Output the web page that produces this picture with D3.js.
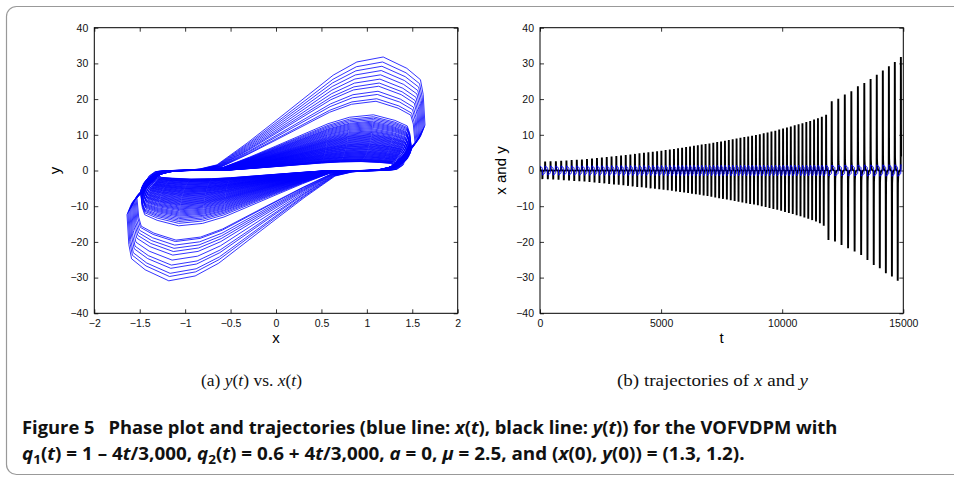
<!DOCTYPE html>
<html>
<head>
<meta charset="utf-8">
<script src="https://cdn.jsdelivr.net/npm/d3@7"></script>
<style>
  body { margin: 0; background: #fff; }
  svg { display: block; }
</style>
</head>
<body>
<svg id="fig" width="954" height="477"></svg>
<script>
// times of the downward spike of each cycle (t)
var cycleT = [100, 324, 546, 766, 984, 1200, 1414, 1626, 1836, 2044, 2250, 2454, 2656, 2856, 3054, 3250,
  3444, 3636, 3826, 4014, 4200, 4384, 4566, 4746, 4924, 5100, 5274, 5446, 5616, 5784, 5950, 6114, 6276,
  6436, 6596, 6756, 6916, 7076, 7236, 7396, 7556, 7716, 7876, 8036, 8196, 8356, 8516, 8676, 8836, 8996,
  9156, 9316, 9476, 9636, 9796, 9956, 10116, 10276, 10436, 10596, 10756, 10916, 11076, 11236, 11396,
  11556, 11716,
  11910, 12180, 12450, 12720, 12990, 13260, 13520, 13780, 14030, 14280, 14530, 14770];
var cycleEnd = 15030;

// spike maxima / minima of y(t) per cycle
var yPeak = [2.5, 2.55, 2.6, 2.7, 2.8, 2.9, 3.0, 3.1, 3.2, 3.35, 3.5, 3.65, 3.8, 3.9, 4.05, 4.2, 4.35, 4.5,
  4.65, 4.8, 4.95, 5.1, 5.25, 5.4, 5.55, 5.75, 5.9, 6.05, 6.25, 6.4, 6.55, 6.75, 6.9, 7.05, 7.25, 7.4, 7.55,
  7.75, 7.95, 8.15, 8.35, 8.55, 8.75, 8.95, 9.15, 9.35, 9.55, 9.75, 9.95, 10.15, 10.4, 10.65, 10.9, 11.15,
  11.45, 11.75, 12.05, 12.35, 12.65, 12.95, 13.25, 13.55, 13.85, 14.25, 14.65, 15.05, 15.6,
  19.4, 20.1, 21.3, 22.2, 23.6, 24.5, 25.6, 26.8, 28.0, 29.2, 30.4, 31.8];
var yTrough = [-2.4, -2.45, -2.5, -2.6, -2.7, -2.8, -2.9, -3.0, -3.1, -3.2, -3.35, -3.5, -3.6, -3.75, -3.9,
  -4.0, -4.15, -4.3, -4.45, -4.6, -4.7, -4.85, -5.0, -5.1, -5.25, -5.4, -5.55, -5.7, -5.85, -6.0, -6.15,
  -6.3, -6.5, -6.65, -6.8, -7.0, -7.15, -7.35, -7.55, -7.75, -7.95, -8.15, -8.35, -8.55, -8.75, -8.95,
  -9.15, -9.35, -9.55, -9.75, -10.0, -10.25, -10.5, -10.75, -11.0, -11.3, -11.6, -11.9, -12.2, -12.5,
  -12.8, -13.15, -13.5, -13.9, -14.3, -14.8, -15.5,
  -19.5, -19.9, -20.9, -21.8, -22.7, -23.7, -25.1, -26.5, -27.4, -28.8, -29.7, -30.9];
// largest |x| reached in each cycle
var xAmp = [1.30, 1.30, 1.31, 1.31, 1.32, 1.32, 1.33, 1.33, 1.34, 1.34, 1.35, 1.35, 1.36, 1.36, 1.37, 1.37,
  1.37, 1.38, 1.38, 1.38, 1.39, 1.39, 1.39, 1.40, 1.40, 1.40, 1.41, 1.41, 1.41, 1.42, 1.42, 1.42, 1.42,
  1.43, 1.43, 1.43, 1.43, 1.44, 1.44, 1.44, 1.44, 1.45, 1.45, 1.45, 1.45, 1.45, 1.46, 1.46, 1.46, 1.46,
  1.46, 1.47, 1.47, 1.47, 1.47, 1.47, 1.48, 1.48, 1.48, 1.48, 1.48, 1.48, 1.49, 1.49, 1.49, 1.49, 1.49,
  1.53, 1.54, 1.55, 1.56, 1.57, 1.58, 1.59, 1.60, 1.61, 1.62, 1.63, 1.64];

var loopU = [0, 0.10, 0.30, 0.60, 0.80, 0.85, 0.87, 0.89, 0.90, 0.915, 0.92, 0.93, 0.94, 0.95, 0.955, 0.965, 0.975, 0.985, 1.0];
var loopX = [-1.44, -1.40, -1.33, -1.15, -0.95, -0.84, -0.65, -0.32, 0, 0.63, 0.89, 1.18, 1.44, 1.59, 1.62, 1.64, 1.59, 1.49, 1.44];
var loopY = [-0.12, -0.05, -0.01, 0.0, 0.005, 0.013, 0.05, 0.24, 0.44, 0.84, 0.956, 1.0, 0.90, 0.80, 0.67, 0.40, 0.30, 0.21, 0.12];
var loopPeak = 0.93, loopXMax = 1.64;

var x0 = 1.3, y0 = 1.2;

var xTicksA = [-2, -1.5, -1, -0.5, 0, 0.5, 1, 1.5, 2];
var tTicks = [0, 5000, 10000, 15000];
var yTicks = [-40, -30, -20, -10, 0, 10, 20, 30, 40];

var svg = d3.select("#fig");
var tickFont = "'Liberation Sans', Arial, Helvetica, sans-serif";

// frame
svg.append("rect").attr("x", 6.5).attr("y", 6.5).attr("width", 1000).attr("height", 468)
  .attr("rx", 10).attr("fill", "none").attr("stroke", "#999").attr("stroke-width", 1.2);

// trajectory: alternating down / up spikes
var spikes = [];
cycleT.forEach(function(t, i) {
  var next = i + 1 < cycleT.length ? cycleT[i + 1] : cycleEnd;
  spikes.push({t: t, a: -yTrough[i], sign: -1, xs: xAmp[i] / loopXMax});
  spikes.push({t: (t + next) / 2, a: yPeak[i], sign: 1, xs: xAmp[i] / loopXMax});
});
var traj = [{t: 0, x: x0, y: y0}];
spikes.forEach(function(s, k) {
  var h = k === 0 ? (cycleT[1] - cycleT[0]) / 2 : s.t - spikes[k - 1].t;
  for (var j = 1; j < loopU.length; j++) {
    traj.push({
      t: s.t + (loopU[j] - loopPeak) * h,
      x: s.sign * loopX[j] * s.xs,
      y: s.sign * loopY[j] * s.a
    });
  }
});

function panel(left, right, xDomain, xTicks, fmt, xlab, ylab, id) {
  var top = 27.7, bottom = 313.3;
  var x = d3.scaleLinear().domain(xDomain).range([left, right]);
  var y = d3.scaleLinear().domain([-40, 40]).range([bottom, top]);
  var g = svg.append("g");
  g.append("clipPath").attr("id", id).append("rect")
    .attr("x", left).attr("y", top).attr("width", right - left).attr("height", bottom - top);

  var ax = function(sel) {
    sel.selectAll(".domain").remove();
    sel.selectAll("line").attr("stroke", "#000").attr("stroke-width", 0.8);
    sel.selectAll("text").attr("font-family", tickFont).attr("font-size", 10.5).attr("fill", "#111");
  };
  g.append("g").attr("transform", "translate(0," + bottom + ")")
    .call(d3.axisBottom(x).tickValues(xTicks).tickSize(-4).tickPadding(6).tickFormat(fmt)).call(ax);
  g.append("g").attr("transform", "translate(0," + top + ")")
    .call(d3.axisTop(x).tickValues(xTicks).tickSize(-4).tickFormat("")).call(ax);
  g.append("g").attr("transform", "translate(" + left + ",0)")
    .call(d3.axisLeft(y).tickValues(yTicks).tickSize(-4).tickPadding(6).tickFormat(d3.format("d"))).call(ax);
  g.append("g").attr("transform", "translate(" + right + ",0)")
    .call(d3.axisRight(y).tickValues(yTicks).tickSize(-4).tickFormat("")).call(ax);
  g.append("rect").attr("x", left).attr("y", top).attr("width", right - left).attr("height", bottom - top)
    .attr("fill", "none").attr("stroke", "#000").attr("stroke-width", 1);

  g.append("text").attr("x", (left + right) / 2).attr("y", 343).attr("text-anchor", "middle")
    .attr("font-family", tickFont).attr("font-size", 15).text(xlab);
  g.append("text").attr("transform", "translate(" + (left - 34) + "," + ((top + bottom) / 2) + ") rotate(-90)")
    .attr("text-anchor", "middle").attr("font-family", tickFont).attr("font-size", 15).text(ylab);
  return {g: g, x: x, y: y};
}

// panel (a)
var pa = panel(94.3, 457.7, [-2, 2], xTicksA, d3.format(""), "x", "y", "clipA");
pa.g.append("path").datum(traj)
  .attr("clip-path", "url(#clipA)")
  .attr("d", d3.line().x(function(d) { return pa.x(d.x); }).y(function(d) { return pa.y(d.y); }))
  .attr("fill", "none").attr("stroke", "#0000ff").attr("stroke-width", 0.8).attr("stroke-linejoin", "round");

// panel (b)
var pb = panel(540, 903.3, [0, 15000], tTicks, d3.format("d"), "t", "x and y", "clipB");
var inB = traj.filter(function(d) { return d.t <= 15100; });
pb.g.append("path").datum(inB)
  .attr("clip-path", "url(#clipB)")
  .attr("d", d3.line().x(function(d) { return pb.x(d.t); }).y(function(d) { return pb.y(d.y); }))
  .attr("fill", "none").attr("stroke", "#000").attr("stroke-width", 1.9);
pb.g.append("path").datum(inB)
  .attr("clip-path", "url(#clipB)")
  .attr("d", d3.line().x(function(d) { return pb.x(d.t); }).y(function(d) { return pb.y(d.x); }))
  .attr("fill", "none").attr("stroke", "#0000ff").attr("stroke-width", 1);

// minus signs as in the original typesetting
svg.selectAll(".tick text").filter(function() { return /^[-\u2212]/.test(this.textContent); })
  .text(function() { return this.textContent.replace(/^[-\u2212]/, "\u2212"); });

// captions: [text, italic, subscript, raise]
function caption(x, y, width, family, size, weight, parts) {
  var t = svg.append("text").attr("x", 0).attr("y", 0)
    .attr("font-family", family).attr("font-size", size).attr("font-weight", weight).attr("fill", "#111");
  parts.forEach(function(p) {
    var s = t.append("tspan").text(p[0]);
    if (p[1]) s.attr("font-style", "italic");
    if (p[2]) s.attr("font-size", size * 0.72).attr("dy", size * 0.25);
    if (p[3]) s.attr("dy", -size * 0.25);
  });
  var w = t.node().getComputedTextLength();
  t.attr("transform", "translate(" + x + "," + y + ") scale(" + (width / w) + ",1)");
}
var serif = "'Liberation Serif', 'DejaVu Serif', serif";
var sans = "'Open Sans', 'Noto Sans', sans-serif";
caption(201, 386, 101, serif, 17, "normal",
  [["(a) "], ["y", 1], ["("], ["t", 1], [") vs. "], ["x", 1], ["("], ["t", 1], [")"]]);
caption(617, 386, 191, serif, 17, "normal",
  [["(b) trajectories of "], ["x", 1], [" and "], ["y", 1]]);
caption(22, 434, 816, sans, 17.5, "bold",
  [["Figure 5\u2002 Phase plot and trajectories (blue line: "], ["x", 1], ["("], ["t", 1],
   ["), black line: "], ["y", 1], ["("], ["t", 1], [")) for the VOFVDPM with"]]);
caption(22, 460, 723, sans, 17.5, "bold",
  [["q", 1], ["1", 0, 1], ["(", 0, 0, 1], ["t", 1], [") = 1 \u2013 4"], ["t", 1], ["/3,000, "], ["q", 1], ["2", 0, 1],
   ["(", 0, 0, 1], ["t", 1], [") = 0.6 + 4"], ["t", 1], ["/3,000, "], ["a", 1], [" = 0, "], ["\u03bc", 1],
   [" = 2.5, and ("], ["x", 1], ["(0), "], ["y", 1], ["(0)) = (1.3, 1.2)."]]);
</script>
</body>
</html>
